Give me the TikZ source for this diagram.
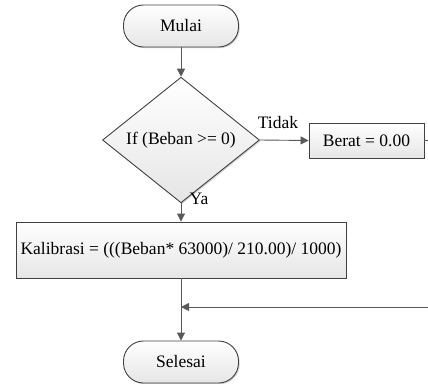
\documentclass[tikz,border=0pt]{standalone}
\usepackage{fontspec}
\setmainfont{Liberation Serif}
\usetikzlibrary{arrows.meta,shapes.geometric,shadows}
\begin{document}
\begin{tikzpicture}[x=1pt,y=-1pt,
  font=\fontsize{17.5}{20}\selectfont,
  boxbase/.style={draw=black!75, line width=0.9pt, top color=white, bottom color=black!10,
    drop shadow={shadow xshift=1.2pt, shadow yshift=-1.2pt, fill=black!30, opacity=0.6},
    inner sep=0pt},
  terminal/.style={boxbase, rectangle, rounded corners=20pt, minimum width=115pt, minimum height=42pt},
  process/.style={boxbase, rectangle, minimum height=35pt},
  decision/.style={boxbase, diamond, minimum width=157pt, minimum height=98pt},
  flow/.style={draw=black!65, line width=0.9pt, -{Triangle[length=8pt,width=8pt]}},
  plain/.style={draw=black!65, line width=0.9pt},
  lbl/.style={inner sep=0pt}]
\useasboundingbox (0,0) rectangle (428,383);

\node[terminal] (start) at (181,26) {Mulai};
\node[decision] (cond) at (181,140) {If (Beban >= 0)};
\node[process, minimum width=115pt] (zero) at (366.5,140.5) {Berat = 0.00};
\node[process, minimum width=330pt, minimum height=56pt] (calib) at (181,250) {Kalibrasi = (((Beban* 63000)/ 210.00)/ 1000)};
\node[terminal] (stop) at (181,362) {Selesai};

\coordinate (zeroout) at (428,140.5);
\coordinate (back) at (428,307);
\coordinate (join) at (181,307);

\draw[flow] (start) -- (cond);
\draw[flow] (cond.east) -- (zero.west);
\draw[flow] (cond.south) -- (calib.north);
\draw[plain] (zero.east) -- (zeroout);
\draw[flow] (calib.south) -- (stop.north);
\draw[flow] (back) -- (join);

\node[lbl] (tidak) at (278,123) {Tidak};
\node[lbl] (ya) at (199,199) {Ya};
\end{tikzpicture}
\end{document}
